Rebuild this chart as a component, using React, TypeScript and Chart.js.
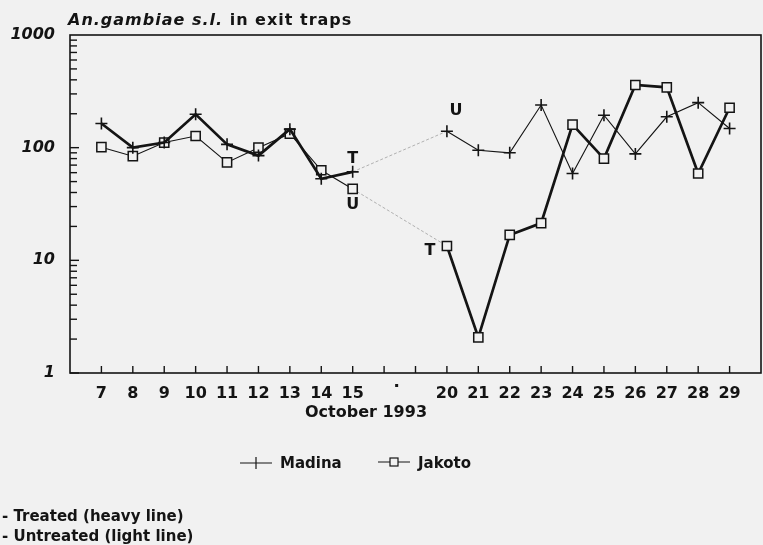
import React, { useEffect, useRef } from "react";
import { Chart, registerables } from "chart.js";

Chart.register(...registerables);

// ---- data ----
const days = [7, 8, 9, 10, 11, 12, 13, 14, 15, 20, 21, 22, 23, 24, 25, 26, 27, 28, 29];
const madina = [164, 100, 111, 198, 107, 85, 146, 53, 61, 140, 95, 90, 239, 59, 194, 88, 188, 251, 148];
const jakoto = [101, 84, 111, 127, 74, 100, 133, 63, 43, 13.4, 2.07, 16.8, 21.4, 160, 80, 360, 343, 59, 226];
const yTickLabels = [1, 10, 100, 1000];
const firstPeriodEnd = 15;
const titleItalic = "An.gambiae s.l.";
const titleRest = " in exit traps";
const xTitle = "October 1993";
const legendLabels = ["Madina", "Jakoto"];
const notes = ["- Treated (heavy line)", "- Untreated (light line)"];
const annotations = [
  { series: "madina", day: 15, text: "T" },
  { series: "jakoto", day: 15, text: "U" },
  { series: "madina", day: 20, text: "U" },
  { series: "jakoto", day: 20, text: "T" },
];

const BG = "#f1f1f1";
const INK = "#141414";
const FONT = "'DejaVu Sans', sans-serif";

// position index on the axis (days 16-19 collapsed)
const pos = (d: number) => (d <= firstPeriodEnd ? d - 7 : d - 9);
const split = days.findIndex((d) => d > firstPeriodEnd);
const pts = (vals: number[], from: number, to: number) =>
  days.slice(from, to).map((d, i) => ({ x: pos(d), y: vals[from + i] }));

export default function App() {
  const ref = useRef<HTMLCanvasElement | null>(null);

  useEffect(() => {
    if (!ref.current) return;

    const deco = {
      id: "deco",
      beforeDraw(chart: any) {
        const c = chart.ctx;
        c.save();
        c.fillStyle = BG;
        c.fillRect(0, 0, chart.width, chart.height);
        c.restore();
      },
      afterDatasetsDraw(chart: any) {
        const c = chart.ctx;
        const a = chart.chartArea;
        const xs = chart.scales.x;
        const ys = chart.scales.y;
        c.save();
        c.strokeStyle = INK;
        c.fillStyle = INK;
        c.lineWidth = 1.6;
        c.strokeRect(a.left, a.top, a.right - a.left, a.bottom - a.top);
        // x inward ticks
        c.lineWidth = 1.4;
        for (let i = 0; i <= 20; i++) {
          const px = xs.getPixelForValue(i);
          c.beginPath();
          c.moveTo(px, a.bottom);
          c.lineTo(px, a.bottom - 7);
          c.stroke();
        }
        // y inward ticks
        for (let dec = 1; dec <= 100; dec *= 10) {
          for (let m = 1; m <= 9; m++) {
            const py = ys.getPixelForValue(m * dec);
            c.beginPath();
            c.moveTo(a.left, py);
            c.lineTo(a.left + (m === 1 ? 9 : 7), py);
            c.stroke();
          }
        }
        // dot label in the gap
        const dx = xs.getPixelForValue(9.4);
        c.fillRect(dx - 1.5, a.bottom + 11, 3, 3);

        // annotations
        c.font = `bold 16px ${FONT}`;
        c.textAlign = "center";
        c.textBaseline = "middle";
        annotations.forEach((an) => {
          const idx = days.indexOf(an.day);
          const v = an.series === "madina" ? madina[idx] : jakoto[idx];
          const px = xs.getPixelForValue(pos(an.day));
          const py = ys.getPixelForValue(v);
          let ox = 0,
            oy = 0;
          if (an.series === "madina" && an.day === 15) oy = -13;
          if (an.series === "jakoto" && an.day === 15) oy = 16;
          if (an.series === "madina" && an.day === 20) { ox = 9; oy = -20; }
          if (an.series === "jakoto" && an.day === 20) { ox = -17; oy = 5; }
          c.fillText(an.text, px + ox, py + oy);
        });

        // title
        c.textAlign = "left";
        c.textBaseline = "middle";
        (c as any).letterSpacing = "1px";
        c.font = `italic bold 16px ${FONT}`;
        c.fillText(titleItalic, 68, 21);
        const w = c.measureText(titleItalic).width;
        c.font = `bold 16px ${FONT}`;
        c.fillText(titleRest, 68 + w, 21);
        (c as any).letterSpacing = "0px";

        // x title
        c.textAlign = "center";
        c.font = `bold 16px ${FONT}`;
        c.fillText(xTitle, 366, 413);

        // legend
        c.font = `bold 15px ${FONT}`;
        c.textAlign = "left";
        c.lineWidth = 1.2;
        c.beginPath();
        c.moveTo(240, 463);
        c.lineTo(272, 463);
        c.moveTo(256, 457);
        c.lineTo(256, 469);
        c.stroke();
        c.fillText(legendLabels[0], 280, 464);
        c.beginPath();
        c.moveTo(378, 462);
        c.lineTo(390, 462);
        c.moveTo(398, 462);
        c.lineTo(410, 462);
        c.stroke();
        c.strokeRect(390, 458, 8, 8);
        c.fillText(legendLabels[1], 418, 464);

        // notes
        c.font = `bold 15px ${FONT}`;
        c.fillText(notes[0], 2, 517);
        c.fillText(notes[1], 2, 537);
        c.restore();
      },
    };

    const heavy = 2.7;
    const light = 1.1;
    const madinaPoint = { pointStyle: "cross", pointRadius: 6, pointBorderWidth: 1.6, pointBorderColor: INK };
    const jakotoPoint = {
      pointStyle: "rect",
      pointRadius: 6.5,
      pointBorderWidth: 1.5,
      pointBorderColor: INK,
      pointBackgroundColor: BG,
    };

    const chart = new Chart(ref.current, {
      type: "line",
      data: {
        datasets: [
          { label: "Madina treated", data: pts(madina, 0, split), borderColor: INK, borderWidth: heavy, ...madinaPoint, order: 1 },
          { label: "Madina untreated", data: pts(madina, split, days.length), borderColor: INK, borderWidth: light, ...madinaPoint, order: 2 },
          { label: "Jakoto untreated", data: pts(jakoto, 0, split), borderColor: INK, borderWidth: light, ...jakotoPoint, order: 2 },
          { label: "Jakoto treated", data: pts(jakoto, split, days.length), borderColor: INK, borderWidth: heavy, ...jakotoPoint, order: 1 },
          {
            label: "Madina gap",
            data: [
              { x: pos(days[split - 1]), y: madina[split - 1] },
              { x: pos(days[split]), y: madina[split] },
            ],
            borderColor: "#a0a0a0",
            borderWidth: 0.8,
            borderDash: [3, 2],
            pointRadius: 0,
            order: 5,
          },
          {
            label: "Jakoto gap",
            data: [
              { x: pos(days[split - 1]), y: jakoto[split - 1] },
              { x: pos(days[split]), y: jakoto[split] },
            ],
            borderColor: "#a0a0a0",
            borderWidth: 0.8,
            borderDash: [3, 2],
            pointRadius: 0,
            order: 5,
          },
        ] as any,
      },
      options: {
        animation: false,
        responsive: false,
        maintainAspectRatio: false,
        layout: { autoPadding: false, padding: { top: 35, right: 2, left: 0, bottom: 0 } },
        plugins: { legend: { display: false }, tooltip: { enabled: false } },
        scales: {
          x: {
            type: "linear",
            min: -1,
            max: 21,
            grid: { display: false, drawTicks: false },
            border: { display: false },
            afterFit: (s: any) => {
              s.height = 172;
              s.paddingLeft = 0;
              s.paddingRight = 0;
            },
            afterBuildTicks: (s: any) => {
              s.ticks = [{ value: -1 }, ...days.map((d) => ({ value: pos(d) })), { value: 21 }];
            },
            ticks: {
              autoSkip: false,
              maxRotation: 0,
              padding: 11,
              color: INK,
              font: { family: FONT, weight: "bold", size: 16 },
              callback: (v: any) => {
                const d = days.find((dd) => pos(dd) === v);
                return d === undefined ? "" : String(d);
              },
            },
          },
          y: {
            type: "logarithmic",
            min: 1,
            max: 1000,
            grid: { display: false, drawTicks: false },
            border: { display: false },
            afterFit: (s: any) => {
              s.width = 70;
            },
            afterBuildTicks: (s: any) => {
              s.ticks = yTickLabels.map((v) => ({ value: v }));
            },
            ticks: {
              autoSkip: false,
              padding: 15,
              color: INK,
              font: { family: FONT, weight: "bold", style: "italic", size: 16 },
              callback: (v: any) => String(v),
            },
          },
        },
      } as any,
      plugins: [deco],
    });
    return () => chart.destroy();
  }, []);

  return (
    <div style={{ position: "absolute", left: 0, top: 0, width: 763, height: 545, background: BG }}>
      <canvas ref={ref} width={763} height={545} style={{ display: "block" }} />
    </div>
  );
}
